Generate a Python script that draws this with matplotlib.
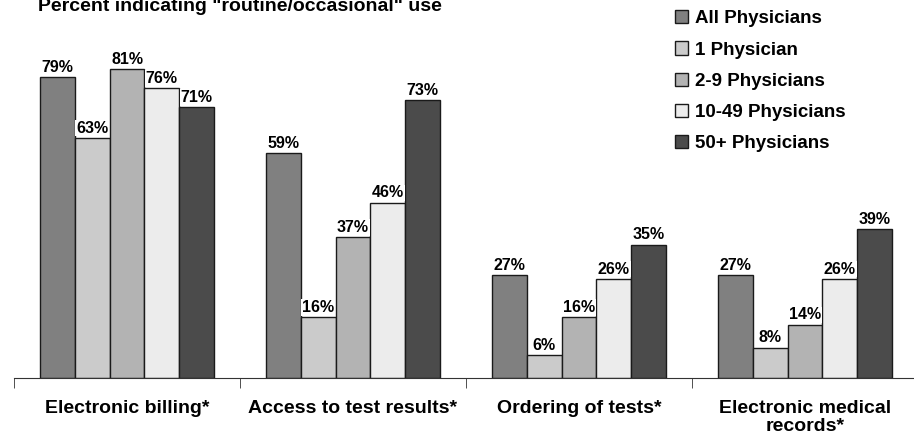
import matplotlib.pyplot as plt
import numpy as np

plt.rcParams['font.family'] = ['Liberation Sans', 'DejaVu Sans']
plt.rcParams['font.weight'] = 'bold'

categories = ['Electronic billing*', 'Access to test results*', 'Ordering of tests*',
              'Electronic medical\nrecords*']
series = ['All Physicians', '1 Physician', '2-9 Physicians', '10-49 Physicians', '50+ Physicians']
all_phys = [79, 59, 27, 27]
one_phys = [63, 16, 6, 8]
two_nine = [81, 37, 16, 14]
ten_49 = [76, 46, 26, 26]
fifty_plus = [71, 73, 35, 39]
values = [all_phys, one_phys, two_nine, ten_49, fifty_plus]
colors = ['#808080', '#cbcbcb', '#b3b3b3', '#ececec', '#4b4b4b']

fig = plt.figure(figsize=(9.14, 4.42), dpi=100)
ax = fig.add_axes([14 / 914, 64 / 442, 904 / 914, 378 / 442])

x = np.arange(len(categories))
w = 0.154
handles = []
for i, (name, vals) in enumerate(zip(series, values)):
    pos = x + (i - 2) * w
    b = ax.bar(pos, vals, w, color=colors[i], edgecolor='#1a1a1a', linewidth=1, label=name)
    handles.append(b)
    for p, v in zip(pos, vals):
        ax.text(p, v + 0.6, f'{v}%', ha='center', va='bottom', fontsize=11.5,
                fontweight='bold',
                bbox=dict(facecolor='white', edgecolor='none', pad=0.6))

ax.set_xlim(-0.5, len(categories) - 0.5)
ax.set_ylim(0, 99.2)
ax.set_yticks([])
for s in ['top', 'right', 'left']:
    ax.spines[s].set_visible(False)
ax.spines['bottom'].set_color('#333333')
ax.set_xticks(x)
ax.set_xticklabels(categories, fontsize=14, fontweight='bold', linespacing=1.05)
ax.tick_params(axis='x', which='major', length=0, pad=16)
ax.set_xticks(np.arange(len(categories) + 1) - 0.5, minor=True)
ax.tick_params(axis='x', which='minor', length=7, color='#333333')

fig.text(38 / 914, 1 - 11 / 442, 'Percent indicating "routine/occasional" use',
         fontsize=14, fontweight='bold', va='baseline', ha='left')

fig.legend(handles=handles, labels=series, loc='upper left',
           bbox_to_anchor=(658 / 914, 1.015), frameon=False, fontsize=13.5,
           handlelength=0.7, handleheight=0.7, handletextpad=0.35,
           labelspacing=0.75)

fig.savefig('out.png', dpi=100)
